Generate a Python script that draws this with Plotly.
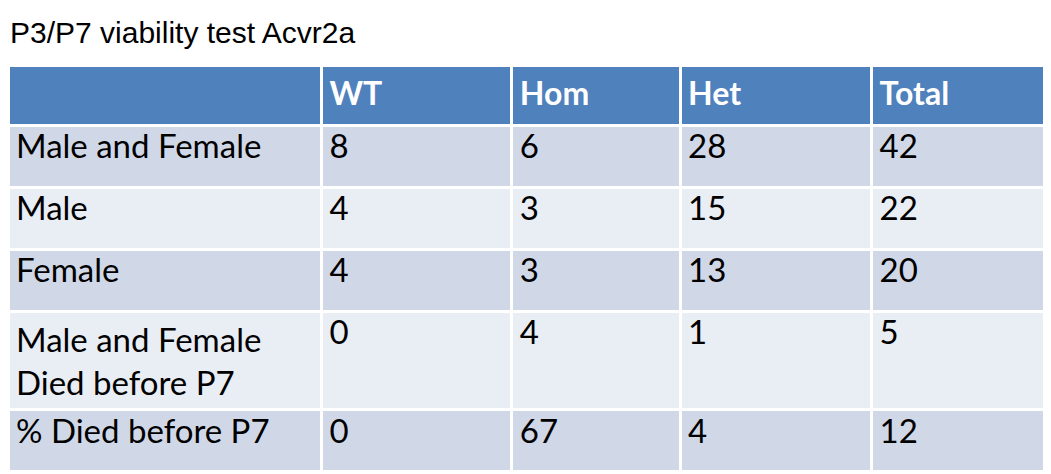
import plotly.graph_objects as go

headers = ["", "WT", "Hom", "Het", "Total"]
row_labels = ["Male and Female", "Male", "Female",
              "Male and Female<br>Died before P7", "% Died before P7"]
wt = [8, 4, 4, 0, 0]
hom = [6, 3, 3, 4, 67]
het = [28, 15, 13, 1, 4]
total = [42, 22, 20, 5, 12]

fill_rows = ["#D0D8E8", "#E9EDF4", "#D0D8E8", "#E9EDF4", "#D0D8E8"]

fig = go.Figure(go.Table(
    columnwidth=[311, 189, 167, 190, 186],
    header=dict(
        values=[f"<b>{h}</b>" for h in headers],
        fill_color="#4F81BD",
        line=dict(color="white", width=3),
        align="left",
        font=dict(family="Lato", size=32, color="white"),
        height=60,
    ),
    cells=dict(
        values=[row_labels, wt, hom, het, total],
        fill_color=[fill_rows] * 5,
        line=dict(color="white", width=3),
        align="left",
        font=dict(family="Lato", size=33, color="black"),
        height=62,
    ),
))

fig.update_layout(
    width=1051, height=474,
    margin=dict(l=0, r=0, t=57, b=0),
    paper_bgcolor="white",
    annotations=[dict(
        text="P3/P7 viability test Acvr2a", x=0.0, y=1.0,
        xref="paper", yref="paper", xanchor="left", yanchor="bottom",
        yshift=14, showarrow=False,
        font=dict(family="Liberation Sans", size=30, color="black"),
    )],
)

fig.write_html("out.html")
